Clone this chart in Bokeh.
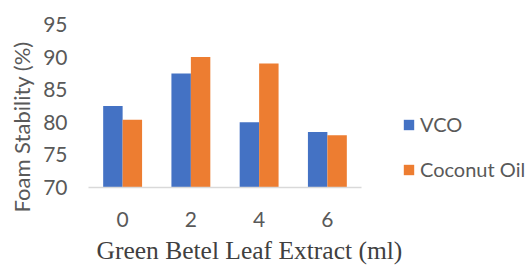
from bokeh.plotting import figure
from bokeh.models import Range1d, Legend, LegendItem, Title, FixedTicker, ColumnDataSource
from bokeh.transform import dodge
from bokeh.embed import file_html
from bokeh.resources import INLINE

categories = ["0", "2", "4", "6"]
vco = [82.5, 87.5, 80.0, 78.5]
coconut_oil = [80.4, 90.0, 89.0, 78.0]
y_ticks = [70, 75, 80, 85, 90, 95]
series_names = ["VCO", "Coconut Oil"]
x_title = "Green Betel Leaf Extract (ml)"
y_title = "Foam Stability (%)"

BLUE = "#4472C4"
ORANGE = "#ED7D31"
GRAY = "#595959"
SANS = "Lato"

W, H = 531, 268
LEFT, TOP, BOTTOM = 88, 24, 80
AXIS_W = 273  # width of the category area in px
n = len(categories)
xpos = list(range(n))
x_end = -0.5 + n * (W - LEFT) / AXIS_W  # frame extends right to hold the legend

src = ColumnDataSource(dict(x=xpos, vco=vco, coco=coconut_oil,
                            base=[y_ticks[0]] * n))

p = figure(x_range=Range1d(-0.5, x_end), y_range=Range1d(y_ticks[0], y_ticks[-1]),
           width=W, height=H, output_backend="svg", toolbar_location=None,
           min_border_left=LEFT, min_border_top=TOP, min_border_bottom=BOTTOM,
           min_border_right=0)
p.outline_line_color = None
p.xgrid.grid_line_color = None
p.ygrid.grid_line_color = None

bw = 0.285
r1 = p.vbar(x=dodge("x", -bw / 2), top="vco", bottom="base",
            width=bw, source=src, fill_color=BLUE, line_color=None)
r2 = p.vbar(x=dodge("x", bw / 2), top="coco", bottom="base",
            width=bw, source=src, fill_color=ORANGE, line_color=None)

for ax in (p.xaxis, p.yaxis):
    ax.major_tick_line_color = None
    ax.minor_tick_line_color = None
    ax.major_tick_out = 0
    ax.major_tick_in = 0
    ax.minor_tick_out = 0
    ax.minor_tick_in = 0
    ax.axis_label_standoff = 0
    ax.major_label_text_font = SANS
    ax.major_label_text_font_size = "21px"
    ax.major_label_text_color = GRAY

p.yaxis.ticker = FixedTicker(ticks=y_ticks)
p.yaxis.axis_line_color = None
p.yaxis.major_label_standoff = 21

p.xaxis.ticker = FixedTicker(ticks=xpos)
p.xaxis.major_label_overrides = {i: c for i, c in zip(xpos, categories)}
p.xaxis.bounds = (-0.5, n - 0.5)
p.xaxis.axis_line_color = "#D9D9D9"
p.xaxis.axis_line_width = 1.5
p.xaxis.major_label_standoff = 24

p.add_layout(Title(text=y_title, align="left", offset=-25, standoff=11,
                   vertical_align="bottom", text_font=SANS,
                   text_font_size="22px", text_font_style="normal",
                   text_color=GRAY), "left")
p.add_layout(Title(text=x_title, align="left", offset=8, standoff=8,
                   vertical_align="bottom", text_font="Liberation Serif",
                   text_font_size="25.5px", text_font_style="normal",
                   text_color="#404040"), "below")

legend = Legend(items=[LegendItem(label=series_names[0], renderers=[r1]),
                       LegendItem(label=series_names[1], renderers=[r2])],
                location=(314, 6), orientation="vertical",
                glyph_width=13, glyph_height=13, label_height=20, spacing=21,
                padding=0, margin=0, label_standoff=5,
                label_text_font=SANS, label_text_font_size="20px",
                label_text_color=GRAY, border_line_color=None,
                background_fill_alpha=0)
p.add_layout(legend, "center")

open("out.html", "w").write(file_html(p, INLINE))
